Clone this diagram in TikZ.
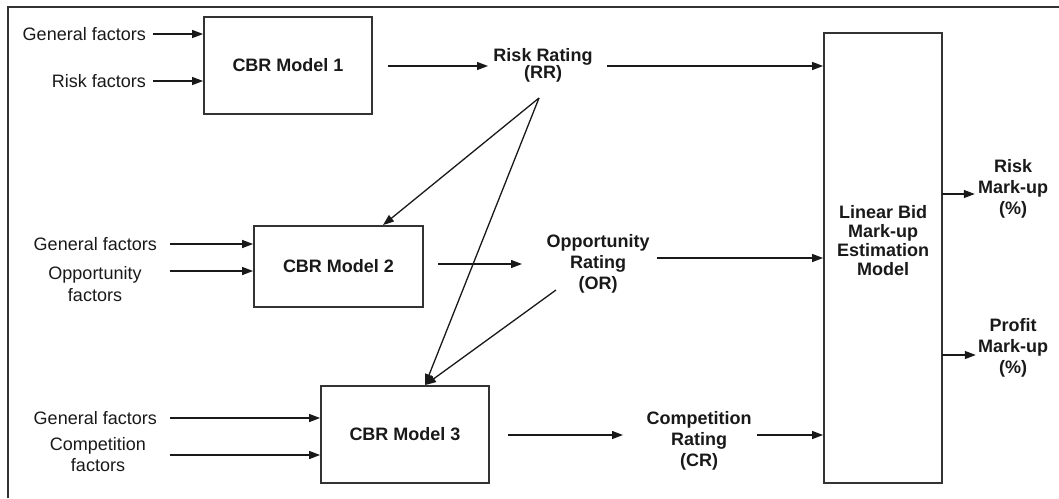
\documentclass[tikz,border=0pt]{standalone}
\usepackage{fontspec}
\setmainfont{Liberation Sans}
\usetikzlibrary{arrows.meta}
\begin{document}
\begin{tikzpicture}[x=1pt,y=-1pt,
  box/.style={draw=black!80,line width=1.8pt,inner sep=0pt},
  txt/.style={inner sep=0pt,font=\fontsize{18}{22}\selectfont,align=center,text=black!90},
  btxt/.style={inner sep=0pt,font=\fontsize{18}{21}\selectfont\bfseries,align=center,text=black!90},
  arr/.style={-{Triangle[length=11pt,width=8pt]},line width=1.3pt,black!90},
  ln/.style={line width=1.3pt,black!90}
]
\useasboundingbox (0,0) rectangle (1059,498);
\draw[line width=2pt,black!80] (8,498) -- (8,7) -- (1059,7);

% boxes
\node[box,btxt,minimum width=168pt,minimum height=97pt] (cbr1) at (288,65.5) {CBR Model 1};
\node[box,btxt,minimum width=169pt,minimum height=81pt] (cbr2) at (338.5,266.5) {CBR Model 2};
\node[box,btxt,minimum width=168pt,minimum height=97pt] (cbr3) at (405,434.5) {CBR Model 3};
\node[box,minimum width=118pt,minimum height=450pt] (lin) at (883,258) {};
\node[btxt,font=\fontsize{18}{19}\selectfont\bfseries] (lint) at (883,241) {Linear Bid\\Mark-up\\Estimation\\Model};

% inputs model 1
\node[txt,anchor=east] (gf1) at (146,34) {General factors};
\node[txt,anchor=east] (rf1) at (146,81) {Risk factors};
\draw[arr] ([xshift=7pt]gf1.east) -- (gf1.east -| cbr1.west);
\draw[arr] ([xshift=7pt]rf1.east) -- (rf1.east -| cbr1.west);

% inputs model 2
\node[txt,anchor=east] (gf2) at (157,244) {General factors};
\node[txt] (of2) at (95,284) {Opportunity\\factors};
\coordinate (of2a) at (170,271);
\draw[arr] ([xshift=13pt]gf2.east) -- (gf2.east -| cbr2.west);
\draw[arr] (of2a) -- (of2a -| cbr2.west);

% inputs model 3
\node[txt,anchor=east] (gf3) at (157,418) {General factors};
\node[txt,font=\fontsize{18}{21}\selectfont] (cf3) at (98,455) {Competition\\factors};
\coordinate (cf3a) at (170,455);
\draw[arr] ([xshift=13pt]gf3.east) -- (gf3.east -| cbr3.west);
\draw[arr] (cf3a) -- (cf3a -| cbr3.west);

% ratings
\node[btxt,font=\fontsize{18}{17}\selectfont\bfseries] (rr) at (543,65) {Risk Rating\\(RR)};
\node[btxt] (or) at (598,264) {Opportunity\\Rating\\(OR)};
\node[btxt] (cr) at (699,440.5) {Competition\\Rating\\(CR)};

\coordinate (c1a) at (388,66);
\coordinate (c1b) at (488,66);
\coordinate (r1a) at (607,66);
\draw[arr] (c1a) -- (c1b);
\draw[arr] (r1a) -- (r1a -| lin.west);

\coordinate (c2a) at (438,264);
\coordinate (c2b) at (522,264);
\coordinate (o2a) at (657,258);
\draw[arr] (c2a) -- (c2b);
\draw[arr] (o2a) -- (o2a -| lin.west);

\coordinate (c3a) at (508,435);
\coordinate (c3b) at (623,435);
\coordinate (k3a) at (757,435);
\draw[arr] (c3a) -- (c3b);
\draw[arr] (k3a) -- (k3a -| lin.west);

% diagonals
\coordinate (rrp) at (539,98);
\coordinate (orp) at (556,290);
\draw[arr] (rrp) -- ([xshift=44.5pt]cbr2.north);
\draw[arr] (rrp) -- ([xshift=20pt]cbr3.north);
\draw[arr] (orp) -- ([xshift=20pt]cbr3.north);

% outputs
\node[btxt] (rmu) at (1013,189) {Risk\\Mark-up\\(\%)};
\node[btxt] (pmu) at (1013,348) {Profit\\Mark-up\\(\%)};
\coordinate (la) at (942,194);
\coordinate (lb) at (942,355);
\draw[arr] (la) -- ([xshift=-3pt]rmu.west |- la);
\draw[arr] (lb) -- ([xshift=-2pt]pmu.west |- lb);
\end{tikzpicture}
\end{document}
